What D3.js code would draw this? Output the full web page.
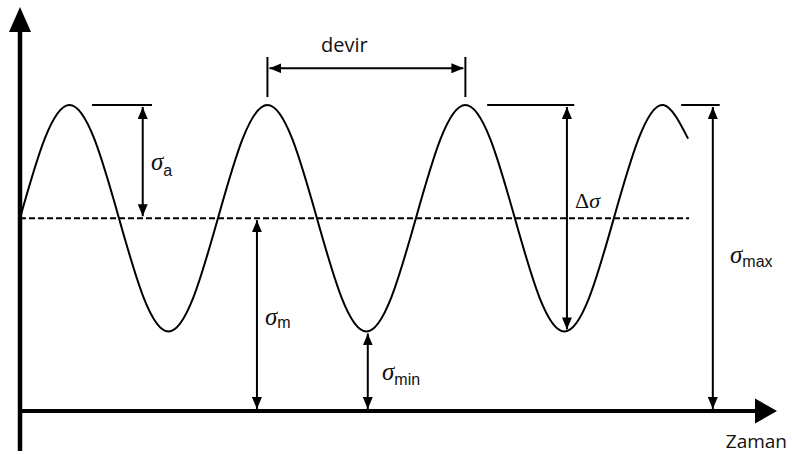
<!DOCTYPE html>
<html>
<head>
<meta charset="utf-8">
<script src="https://cdn.jsdelivr.net/npm/d3@7"></script>
<style>
  html, body { margin: 0; padding: 0; background: #fff; }
  svg { display: block; }
</style>
</head>
<body>
<svg id="chart" width="792" height="455"></svg>
<script>
// Stress history: time in cycles, stress in arbitrary units
const timePoints = [0, 0.125, 0.25, 0.375, 0.5, 0.625, 0.75, 0.875,
                    1, 1.125, 1.25, 1.375, 1.5, 1.625, 1.75, 1.875,
                    2, 2.125, 2.25, 2.375, 2.5, 2.625, 2.75, 2.875,
                    3, 3.125, 3.25, 3.375];
const stressValues = [6.3, 8.9, 10, 8.9, 6.3, 3.7, 2.6, 3.7,
                      6.3, 8.9, 10, 8.9, 6.3, 3.7, 2.6, 3.7,
                      6.3, 8.9, 10, 8.9, 6.3, 3.7, 2.6, 3.7,
                      6.3, 8.9, 10, 8.9];

const sigmaMax = 10;
const sigmaMin = 2.6;
const sigmaMean = 6.3;
const meanLineEnd = 3.38;

// Annotation anchors (time positions)
const cycleStart = 1.25, cycleEnd = 2.25;
const ampArrowT = 0.62, ampCapT = [0.364, 0.667];
const rangeArrowT = 2.763, rangeCapT = [2.36, 2.80];
const maxArrowT = 3.5, maxCapT = [3.34, 3.535];
const meanArrowT = 1.197;
const minArrowT = 1.757;

const axisLabels = { time: "Zaman", cycle: "devir" };

const svg = d3.select("#chart");
const x = d3.scaleLinear().domain([0, 3.9]).range([20, 792]);
const y = d3.scaleLinear().domain([0, 10]).range([411, 105]);

const ink = "#000";

// Markers for double-headed dimension arrows
const defs = svg.append("defs");
defs.append("marker")
  .attr("id", "head")
  .attr("viewBox", "0 0 12 10")
  .attr("refX", 12).attr("refY", 5)
  .attr("markerWidth", 12).attr("markerHeight", 10)
  .attr("markerUnits", "userSpaceOnUse")
  .attr("orient", "auto-start-reverse")
  .append("path").attr("d", "M0,0 L12,5 L0,10 Z").attr("fill", ink);

// Axes
svg.append("line")
  .attr("x1", x(0)).attr("x2", x(0))
  .attr("y1", 451).attr("y2", 28)
  .attr("stroke", ink).attr("stroke-width", 4.5);
svg.append("path")
  .attr("d", `M${x(0) - 11},32 L${x(0)},7 L${x(0) + 11},32 Z`)
  .attr("fill", ink);

svg.append("line")
  .attr("x1", x(0) - 2).attr("x2", 760)
  .attr("y1", y(0)).attr("y2", y(0))
  .attr("stroke", ink).attr("stroke-width", 4);
svg.append("path")
  .attr("d", `M755,${y(0) - 12.5} L777,${y(0)} L755,${y(0) + 12.5} Z`)
  .attr("fill", ink);

// Mean stress line
svg.append("line")
  .attr("x1", x(0)).attr("x2", x(meanLineEnd))
  .attr("y1", y(sigmaMean)).attr("y2", y(sigmaMean))
  .attr("stroke", ink).attr("stroke-width", 2)
  .attr("stroke-dasharray", "6,3");

// Stress curve
const series = timePoints.map((t, i) => ({ t, s: stressValues[i] }));
svg.append("path")
  .datum(series)
  .attr("fill", "none")
  .attr("stroke", ink)
  .attr("stroke-width", 2)
  .attr("d", d3.line().x(d => x(d.t)).y(d => y(d.s)).curve(d3.curveNatural));

// Reference caps at the maximum stress level
function cap(t0, t1, s) {
  svg.append("line")
    .attr("x1", x(t0)).attr("x2", x(t1))
    .attr("y1", y(s)).attr("y2", y(s))
    .attr("stroke", ink).attr("stroke-width", 2);
}
cap(ampCapT[0], ampCapT[1], sigmaMax);
cap(rangeCapT[0], rangeCapT[1], sigmaMax);
cap(maxCapT[0], maxCapT[1], sigmaMax);

// Vertical dimension arrows
function vArrow(t, s0, s1) {
  svg.append("line")
    .attr("x1", x(t)).attr("x2", x(t))
    .attr("y1", y(s0) - 2).attr("y2", y(s1) + 2)
    .attr("stroke", ink).attr("stroke-width", 2)
    .attr("marker-start", "url(#head)")
    .attr("marker-end", "url(#head)");
}
vArrow(ampArrowT, sigmaMean, sigmaMax);
vArrow(rangeArrowT, sigmaMin, sigmaMax);
vArrow(maxArrowT, 0, sigmaMax);
vArrow(meanArrowT, 0, sigmaMean);
vArrow(minArrowT, 0, sigmaMin);

// Cycle (period) dimension
const cycleLevelTop = 11.57, cycleLevelBottom = 10.26, cycleLevelArrow = 11.2;
[cycleStart, cycleEnd].forEach(t => {
  svg.append("line")
    .attr("x1", x(t)).attr("x2", x(t))
    .attr("y1", y(cycleLevelTop)).attr("y2", y(cycleLevelBottom))
    .attr("stroke", ink).attr("stroke-width", 2);
});
svg.append("line")
  .attr("x1", x(cycleStart) + 2).attr("x2", x(cycleEnd) - 2)
  .attr("y1", y(cycleLevelArrow)).attr("y2", y(cycleLevelArrow))
  .attr("stroke", ink).attr("stroke-width", 2)
  .attr("marker-start", "url(#head)")
  .attr("marker-end", "url(#head)");

svg.append("text")
  .attr("x", (x(cycleStart) + x(cycleEnd)) / 2 - 22)
  .attr("y", 52)
  .attr("text-anchor", "middle")
  .attr("font-family", "'Open Sans', sans-serif")
  .attr("font-size", 20)
  .attr("fill", "#111")
  .text(axisLabels.cycle);

svg.append("text")
  .attr("x", 787).attr("y", 448)
  .attr("text-anchor", "end")
  .attr("font-family", "'Open Sans', sans-serif")
  .attr("font-size", 19)
  .attr("fill", "#111")
  .text(axisLabels.time);

// Stress symbols with subscripts
function sigmaLabel(px, py, sub, dy) {
  const tx = svg.append("text")
    .attr("x", px).attr("y", py)
    .attr("fill", "#111");
  tx.append("tspan")
    .attr("font-family", "'Liberation Serif', serif")
    .attr("font-style", "italic")
    .attr("font-size", 25)
    .text("σ");
  tx.append("tspan")
    .attr("font-family", "'Liberation Sans Narrow', 'Liberation Sans', sans-serif")
    .attr("font-size", 16)
    .attr("dy", dy)
    .text(sub);
}
sigmaLabel(151, 170, "a", 6);
sigmaLabel(730, 263, "max", 4);
sigmaLabel(265, 325, "m", 3);
sigmaLabel(382, 380, "min", 5);

// Stress range label
const rangeText = svg.append("text")
  .attr("x", 575).attr("y", 208)
  .attr("fill", "#111")
  .attr("font-family", "'Liberation Serif', serif")
  .attr("font-size", 22);
rangeText.append("tspan").text("Δ");
rangeText.append("tspan").attr("font-style", "italic").text("σ");
</script>
</body>
</html>
